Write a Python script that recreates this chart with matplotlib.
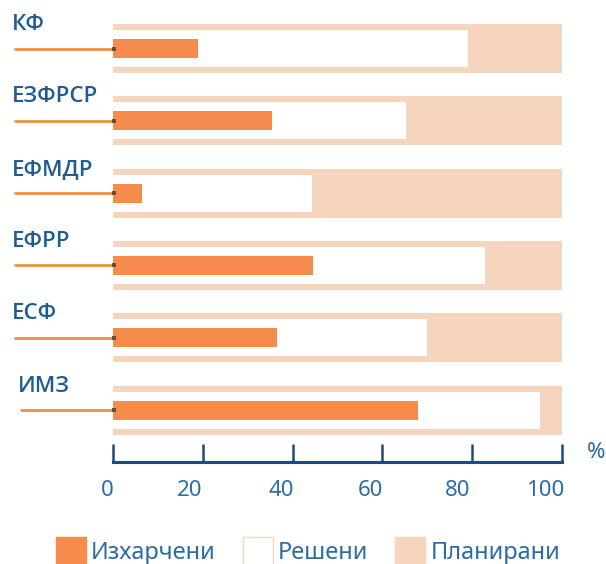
import matplotlib
matplotlib.use("Agg")
import matplotlib.pyplot as plt
from matplotlib.patches import Patch
from matplotlib.transforms import ScaledTranslation, blended_transform_factory

categories = ["КФ", "ЕЗФРСР", "ЕФМДР", "ЕФРР", "ЕСФ", "ИМЗ"]
spent = [19, 35.5, 6.5, 44.5, 36.5, 68]
decided = [79, 65.3, 44.3, 82.8, 70, 95]
planned = [100, 100, 100, 100, 100, 100]
xticks = [0, 20, 40, 60, 80, 100]
legend_labels = ["Изхарчени", "Решени", "Планирани"]

ORANGE = "#F58C4B"
PEACH = "#F5D5BE"
DARK = "#1F4A7A"
LABEL = "#1F5C91"
TICKC = "#2D6BA3"

plt.rcParams['font.family'] = ['Noto Sans', 'DejaVu Sans']

W, H = 606, 564
fig = plt.figure(figsize=(W / 100, H / 100), dpi=100)
x0, x1 = 113, 562
ybot = 462
ax = fig.add_axes([x0 / W, 1 - ybot / H, (x1 - x0) / W, ybot / H])
ax.set_xlim(0, 100)
ax.set_ylim(ybot, 0)

start, step = 48.5, 72.3
ys = [start + i * step for i in range(len(categories))]

ax.barh(ys, planned, height=49, color=PEACH, left=0, zorder=1)
ax.barh(ys, decided, height=37, color="white", left=0, zorder=2)
ax.barh(ys, spent, height=19, color=ORANGE, left=0, zorder=3)

ftrans = blended_transform_factory(fig.transFigure, ax.transData)
for i, (y, cat) in enumerate(zip(ys, categories)):
    lx = 20 if i == len(categories) - 1 else 14
    ax.plot([lx / W, x0 / W], [y, y], transform=ftrans, color=ORANGE, lw=2,
            solid_capstyle="butt", clip_on=False, zorder=4)
    ax.plot([(x0 + 1) / W], [y], transform=ftrans, marker="s", ms=2.2,
            color="#6b4a3a", mew=0, clip_on=False, zorder=5)
    tx = 18 if i == len(categories) - 1 else 12
    ax.text(tx / W, y - 24, cat, transform=ftrans,
            fontsize=16, fontweight="semibold", family=["Open Sans", "DejaVu Sans"],
            color=LABEL, ha="left", va="center")

for s in ["top", "right", "left"]:
    ax.spines[s].set_visible(False)
ax.spines["bottom"].set_color(DARK)
ax.spines["bottom"].set_linewidth(2.2)
ax.set_yticks([])
ax.set_xticks(xticks)
ax.set_xticklabels([str(t) for t in xticks])
ax.tick_params(axis="x", direction="in", length=13, width=1.8, color=DARK,
               labelsize=16, labelcolor=TICKC, pad=13)
tick_offsets = [-6, -13, -11, -12, -15, -17]
for off_px, lbl in zip(tick_offsets, ax.get_xticklabels()):
    off = ScaledTranslation(off_px / 100, 0, fig.dpi_scale_trans)
    lbl.set_transform(lbl.get_transform() + off)

fig.text(596 / W, 1 - 452 / H, "%", fontsize=16, color=TICKC, ha="center", va="center")

handles = [Patch(facecolor=ORANGE, edgecolor=ORANGE),
           Patch(facecolor="white", edgecolor=PEACH, linewidth=1),
           Patch(facecolor=PEACH, edgecolor=PEACH)]
fig.legend(handles, legend_labels, loc="center", bbox_to_anchor=(308 / W, 1 - 551 / H),
           ncol=3, frameon=False, fontsize=17, handlelength=1.27, handleheight=1.4,
           handletextpad=0.22, columnspacing=1.15, labelcolor=TICKC,
           borderpad=0, borderaxespad=0)

fig.savefig("out.png", dpi=100)
